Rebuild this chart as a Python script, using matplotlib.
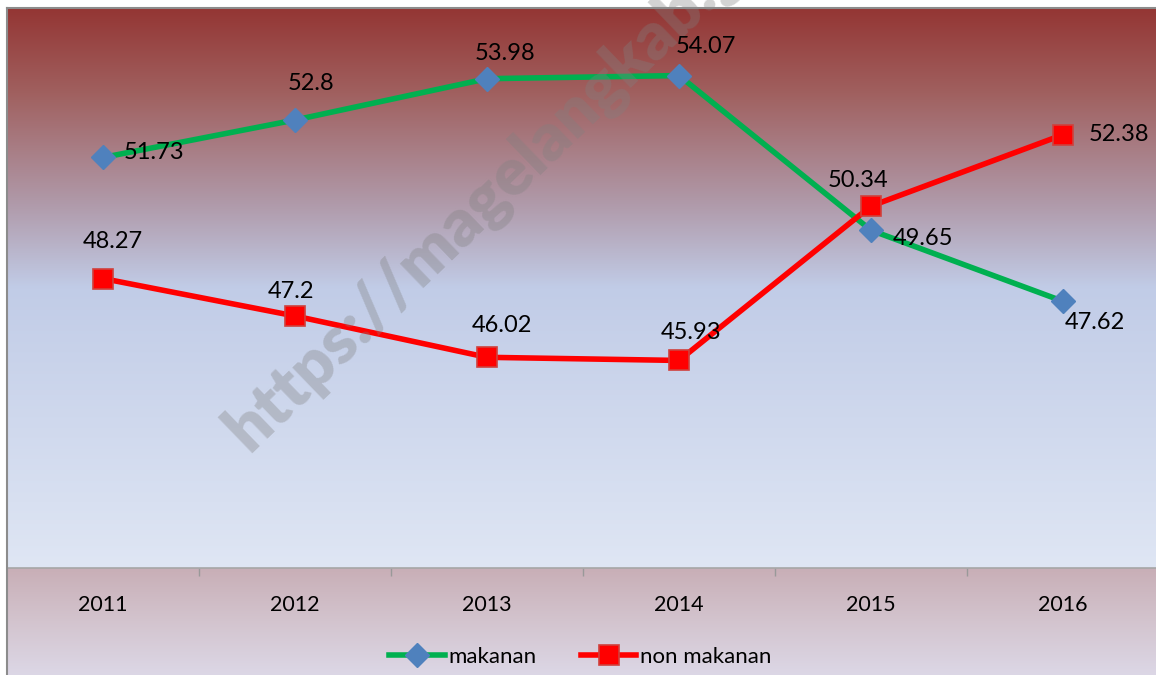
import matplotlib.pyplot as plt
import numpy as np
from matplotlib.colors import LinearSegmentedColormap

# data
years = ['2011', '2012', '2013', '2014', '2015', '2016']
makanan = [51.73, 52.8, 53.98, 54.07, 49.65, 47.62]
non_makanan = [48.27, 47.2, 46.02, 45.93, 50.34, 52.38]

# label offsets in pixels (dx, dy), just for placing the data labels
off_mak = [(51, 5), (16, 36), (18, 25), (27, 29), (52, -8), (32, -21)]
off_non = [(10, 37), (-4, 25), (15, 32), (12, 28), (-13, 26), (56, 0)]

plt.rcParams['font.family'] = ['Lato', 'DejaVu Sans']

W, H = 1156, 675
fig = plt.figure(figsize=(W / 100, H / 100), dpi=100)
fig.patch.set_facecolor('white')

# lower band behind the axis labels and legend
band = fig.add_axes([7 / W, 0, 1 - 7 / W, (H - 568) / H])
band_cmap = LinearSegmentedColormap.from_list('band', ['#c8aeb6', '#d3c4ce', '#dcd7e6'])
band.imshow(np.linspace(0, 1, 256).reshape(-1, 1), cmap=band_cmap, aspect='auto',
            extent=[0, 1, 0, 1], origin='upper')
band.set_axis_off()

# main plot area (extends slightly past the right edge, like the cropped original)
ax = fig.add_axes([7 / W, (H - 568) / H, 1152 / W, 560 / H])
bg_cmap = LinearSegmentedColormap.from_list(
    'bg', [(0, '#943634'), (0.15, '#a0605f'), (0.35, '#b09aaa'),
           (0.5, '#c1cce7'), (1.0, '#dfe6f4')])
ax.imshow(np.linspace(0, 1, 256).reshape(-1, 1), cmap=bg_cmap, aspect='auto',
          extent=[-0.5, 5.5, 40, 56], origin='upper', zorder=0)

x = np.arange(len(years))
ax.plot(x, makanan, color='#00b050', lw=4, marker='D', ms=12,
        mfc='#4f81bd', mec='#4f81bd', zorder=3, label='makanan')
ax.plot(x, non_makanan, color='#ff0000', lw=4, marker='s', ms=14,
        mfc='#ff0000', mec='#d0403c', mew=1.2, zorder=4, label='non makanan')

for i in range(len(years)):
    ax.annotate(f'{makanan[i]:g}', (x[i], makanan[i]), xytext=off_mak[i],
                textcoords='offset pixels', ha='center', va='center',
                fontsize=17, color='black', zorder=6)
    ax.annotate(f'{non_makanan[i]:g}', (x[i], non_makanan[i]), xytext=off_non[i],
                textcoords='offset pixels', ha='center', va='center',
                fontsize=17, color='black', zorder=6)

# watermark
ax.text(0.21, 0.205, 'https://magelangkab.go.id', transform=ax.transAxes,
        rotation=44, rotation_mode='anchor', ha='left', va='baseline',
        fontsize=48, fontweight='heavy', color='#808080', alpha=0.35, zorder=5)

ax.set_xlim(-0.5, 5.5)
ax.set_ylim(40, 56)
ax.set_yticks([])
ax.set_xticks(np.arange(0.5, 5, 1))
ax.set_xticklabels([])
ax.tick_params(axis='x', direction='out', length=6, color='#999999', width=1)
for s in ['top', 'right', 'left']:
    ax.spines[s].set_visible(False)
ax.spines['bottom'].set_color('#a6a6a6')
ax.spines['bottom'].set_linewidth(1.2)

# category labels
for i, yr in enumerate(years):
    ax.annotate(yr, (x[i], 40), xytext=(0, -37), textcoords='offset pixels',
                ha='center', va='center', fontsize=15.5, annotation_clip=False)

# chart border (left and top)
fig.add_artist(plt.Line2D([7 / W, 7 / W], [0, 1 - 8 / H], transform=fig.transFigure,
                          color='#8c8c8c', lw=1.5))
fig.add_artist(plt.Line2D([7 / W, 1], [1 - 8 / H, 1 - 8 / H], transform=fig.transFigure,
                          color='#8c8c8c', lw=1.5))

leg = fig.legend(loc='center', bbox_to_anchor=(0.502, 1 - 657 / H), ncol=2,
                 frameon=False, fontsize=16, handlelength=2.5, handletextpad=0.15,
                 columnspacing=2.0)

fig.savefig('out.png', dpi=100)
